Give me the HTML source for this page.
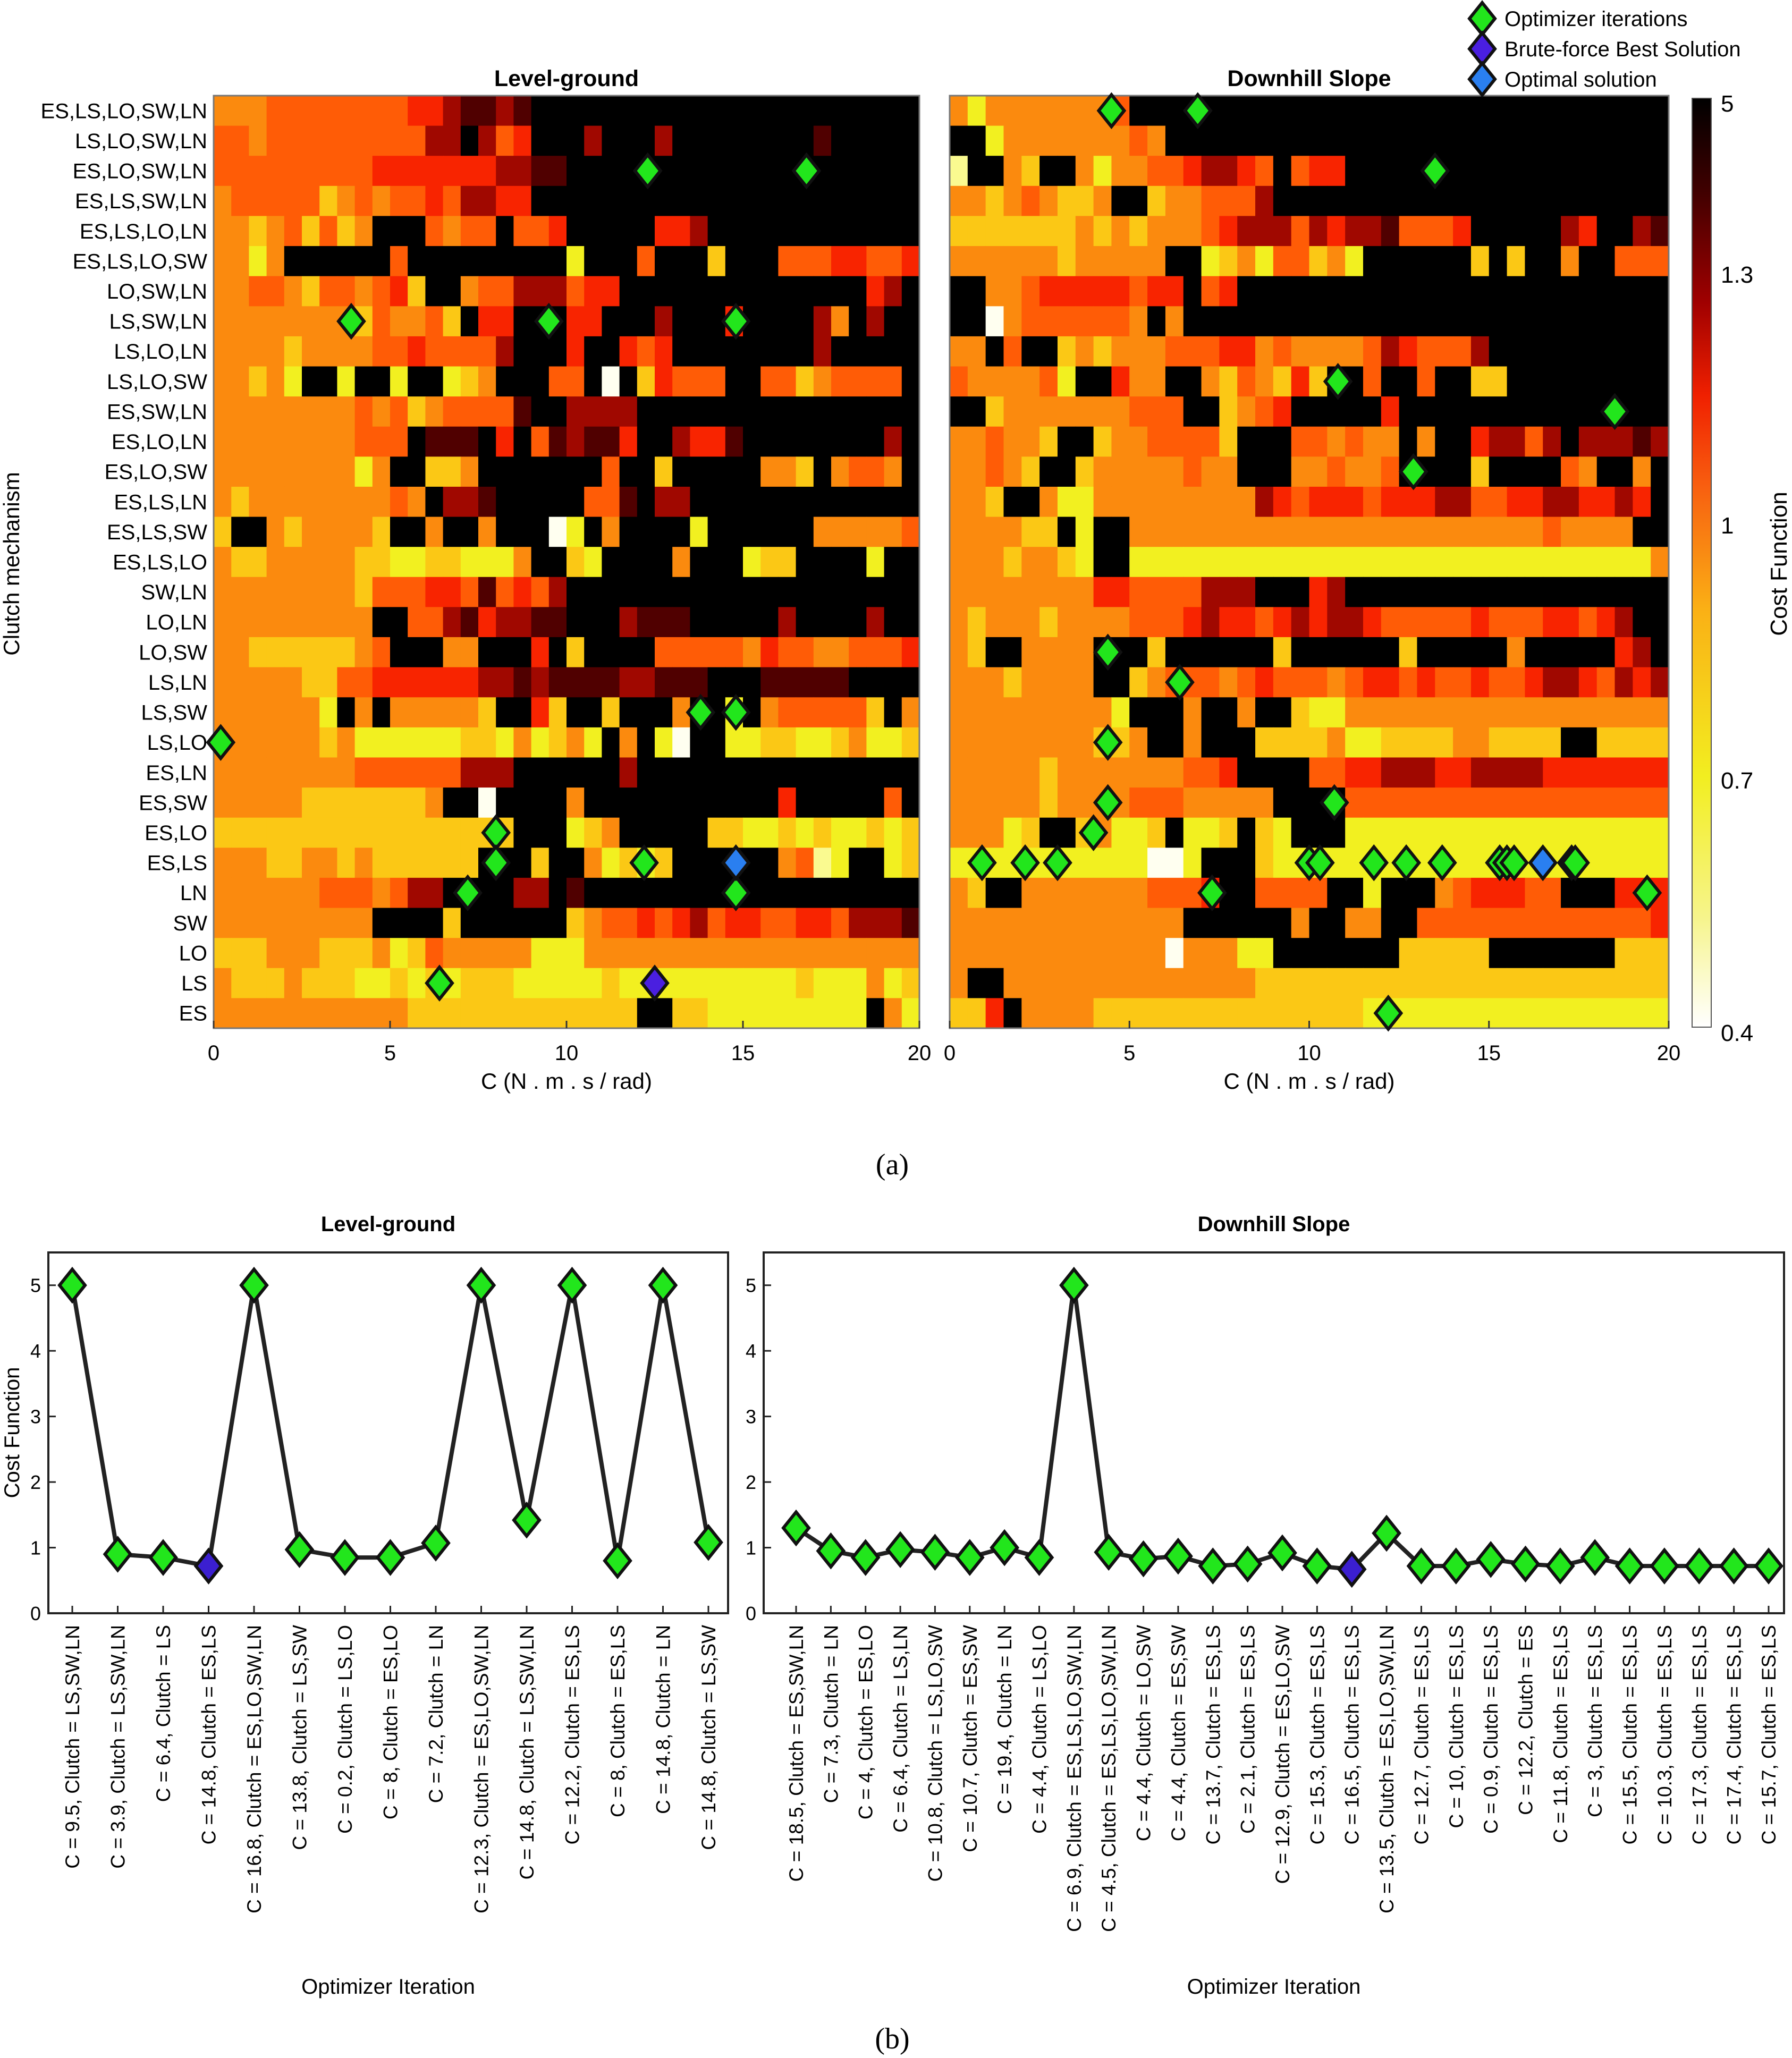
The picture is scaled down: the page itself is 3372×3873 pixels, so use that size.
<!DOCTYPE html>
<html><head><meta charset="utf-8"><style>
html,body{margin:0;padding:0;background:#fff;}
svg{display:block;font-family:"Liberation Sans",sans-serif;}
</style></head><body>
<svg id="fig" width="3372" height="3873" viewBox="0 0 3372 3873" xmlns="http://www.w3.org/2000/svg"></svg>
<script>
const clutchRows = ["ES,LS,LO,SW,LN","LS,LO,SW,LN","ES,LO,SW,LN","ES,LS,SW,LN","ES,LS,LO,LN","ES,LS,LO,SW","LO,SW,LN","LS,SW,LN","LS,LO,LN","LS,LO,SW","ES,SW,LN","ES,LO,LN","ES,LO,SW","ES,LS,LN","ES,LS,SW","ES,LS,LO","SW,LN","LO,LN","LO,SW","LS,LN","LS,SW","LS,LO","ES,LN","ES,SW","ES,LO","ES,LS","LN","SW","LO","LS","ES"];
const levelGrid = [
"4445555555566788789999999999999999999999",
"5545555555557797569997999799999999899999",
"5555555556666666778899999999999999999999",
"4555553454556577669999999999999999999999",
"4434535349995455955699999667999999999999",
"4424999999599999999929995999399955566556",
"4455435545639945577756699999999999999679",
"4444444435445396699966999799969999749799",
"4444344445565555799969965699999999799999",
"4434299299299234999559093655599553455559",
"4444444454534555589977779999999999999999",
"4444444455598889695878869976689999999979",
"4444444424993349999999599399999443945549",
"4344444444549778999995589779999999999999",
"3994344443994994999029499992999999444445",
"4334444433223322249932999949992339999299",
"4444444435556658565799999999999999999999",
"4444444449955786778899978889999979999799",
"4433333345999449996939999555554655445556",
"4444433556666667787888877888999888889999",
"4444442949444443996399399949929455555394",
"4444443422222233242342949209922332234223",
"4444444455555577799999979999999999999999",
"4444433333334990999949999999999969999959",
"3333333333333333399923499999332232322323",
"4443344343333339993994232399999945129923",
"4444445554577999977989999999999999999999",
"4444444449999399999934556567566556657778",
"3334443334235444442224444444444444444444",
"4333433322323233322222322222222223222423",
"4444444444433333333333339933222222222942"];
const downGrid = [
"4244444445999999999999999999999999999999",
"9924444444549999999999999999999999999999",
"1994399424455677659566999999999999999999",
"4434543349934455579999999999999999999999",
"3333333434344456777576778555699999769978",
"4444443444449923425534299999939399499555",
"9944566666566956999999999999999999999999",
"9904555555494999999999999999999999999999",
"4495993434445556645444457655579999999999",
"5444452996449943543639959959933999999999",
"9934444444555993456999996999999999999999",
"4454439934455553999554544949967757977787",
"4454399344444544999445445999939999549949",
"4439942244444444476566656667755667766769",
"4444339299444444444444444444444445444499",
"4443443299222222222222222222222222222224",
"4444444466555577799967999999999999999999",
"4344434444555676656767765555565556656799",
"4399444499939999993999999399999499999679",
"4443444499345554565554566565565567765767",
"4444444442999499499322444444444444444444",
"4444444433499499933334223333443333993333",
"4444434444444556999955667776677776666666",
"4444434444555444449999555555555555555555",
"4442399342239223932999222222222222222222",
"2222222222200299932222222222222222222222",
"4399444444455569955559929994566655999666",
"4444444444444999999499449955555555555556",
"4444444444440444229999999333339999999333",
"4994444444444444433333333333333333333333",
"3369444433333333333333322222222222222222"];
// Level-ground optimizer iterations
const levelC = [9.5,3.9,6.4,14.8,16.8,13.8,0.2,8,7.2,12.3,14.8,12.2,8,14.8,14.8];
const levelClutch = ["LS,SW,LN","LS,SW,LN","LS","ES,LS","ES,LO,SW,LN","LS,SW","LS,LO","ES,LO","LN","ES,LO,SW,LN","LS,SW,LN","ES,LS","ES,LS","LN","LS,SW"];
const levelCost = [5,0.9,0.85,0.72,5,0.97,0.85,0.85,1.07,5,1.42,5,0.8,5,1.08];
const levelBestIdx = 3;
const levelBrute = {c:12.5, clutch:"LS"};
// Downhill optimizer iterations
const downC = [18.5,7.3,4,6.4,10.8,10.7,19.4,4.4,6.9,4.5,4.4,4.4,13.7,2.1,12.9,15.3,16.5,13.5,12.7,10,0.9,12.2,11.8,3,15.5,10.3,17.3,17.4,15.7];
const downClutch = ["ES,SW,LN","LN","ES,LO","LS,LN","LS,LO,SW","ES,SW","LN","LS,LO","ES,LS,LO,SW,LN","ES,LS,LO,SW,LN","LO,SW","ES,SW","ES,LS","ES,LS","ES,LO,SW","ES,LS","ES,LS","ES,LO,SW,LN","ES,LS","ES,LS","ES,LS","ES","ES,LS","ES,LS","ES,LS","ES,LS","ES,LS","ES,LS","ES,LS"];
const downCost = [1.3,0.95,0.85,0.97,0.93,0.85,1.0,0.85,5,0.93,0.83,0.87,0.72,0.75,0.92,0.72,0.67,1.22,0.72,0.72,0.82,0.75,0.72,0.85,0.72,0.72,0.72,0.72,0.72];
const downBestIdx = 16;
const xTicks = [0,5,10,15,20];
const costTicks = [0,1,2,3,4,5];
const cbarTicks = ["5","1.3","1","0.7","0.4"];

const NS="http://www.w3.org/2000/svg";
const svg=document.getElementById('fig');
function mk(tag,attrs,parent){const e=document.createElementNS(NS,tag);for(const k in attrs)e.setAttribute(k,attrs[k]);(parent||svg).appendChild(e);return e;}
function txt(s,attrs,parent){const e=mk('text',attrs,parent);e.textContent=s;return e;}
const COLORS=["#fffff0","#fafa90","#f2f020","#fbc815","#fb8a0e","#ff5c06","#f82400","#a00800","#500000","#000000"];
function diamond(cx,cy,fill,parent,name){
  const r=30;
  const d=mk('polygon',{points:`${cx},${cy-r} ${cx+r*0.8},${cy} ${cx},${cy+r} ${cx-r*0.8},${cy}`,fill:fill,stroke:'#111',"stroke-width":6},parent);
  
  
  return d;
}

function heatPanel(px0,px1,py0,py1,grid,iterC,iterClutch,bestIdx,brute,title,name,showY){
  const g=mk('g',{});
  
  
  const nR=clutchRows.length, rowH=(py1-py0)/nR;
  const xs=c=>px0+(c/20)*(px1-px0);
  const rowY=lbl=>py0+(clutchRows.indexOf(lbl)+0.5)*rowH;
  for(let r=0;r<nR;r++){
    const row=grid[r];const nC=row.length;
    for(let j=0;j<nC;j++){
      const x0=xs(j*20/nC),x1=xs((j+1)*20/nC);
      const cell=mk('rect',{x:x0,y:py0+r*rowH,width:x1-x0+0.6,height:rowH+0.6,fill:COLORS[+row[j]]},g);
      
      
    }
  }
  mk('rect',{x:px0,y:py0,width:px1-px0,height:py1-py0,fill:'none',stroke:'#777','stroke-width':3},g);
  const t=txt(title,{x:(px0+px1)/2,y:py0-18,'text-anchor':'middle','font-size':43,'font-weight':'bold'},g);
  
  
  xTicks.forEach(v=>{
    mk('line',{x1:xs(v),x2:xs(v),y1:py1,y2:py1-14,stroke:'#333','stroke-width':3},g);
    const l=txt(String(v),{x:xs(v),y:py1+60,'text-anchor':'middle','font-size':40},g);
    
    
  });
  const xl=txt("C (N . m . s / rad)",{x:(px0+px1)/2,y:py1+114,'text-anchor':'middle','font-size':42},g);
  
  
  if(showY){
    clutchRows.forEach((lbl,i)=>{
      const l=txt(lbl,{x:px0-12,y:py0+(i+0.5)*rowH+14,'text-anchor':'end','font-size':40},g);
      
      
    });
  }
  iterC.forEach((c,i)=>{
    if(i===bestIdx)return;
    diamond(xs(c),rowY(iterClutch[i]),'#22e61c',g,'optimizer-iteration-marker');
  });
  diamond(xs(iterC[bestIdx]),rowY(iterClutch[bestIdx]),'#2a7ff0',g,'optimal-solution-marker');
  if(brute) diamond(xs(brute.c),rowY(brute.clutch),'#4a1fe0',g,'brute-force-marker');
}
heatPanel(402,1730,180,1935,levelGrid,levelC,levelClutch,levelBestIdx,levelBrute,"Level-ground","level-ground-heatmap",true);
heatPanel(1787,3140,180,1935,downGrid,downC,downClutch,downBestIdx,null,"Downhill Slope","downhill-heatmap",false);

const yt=txt("Clutch mechanism",{x:0,y:0,'text-anchor':'middle','font-size':42,transform:'translate(36,1061) rotate(-90)'});



const defs=mk('defs',{});
const lg=mk('linearGradient',{id:'cb',x1:0,y1:1,x2:0,y2:0},defs);
[[0,'#ffffff'],[0.12,'#f6f48a'],[0.27,'#f2ee20'],[0.45,'#fab015'],[0.58,'#f86010'],[0.68,'#f02000'],[0.78,'#a00000'],[0.9,'#400000'],[1,'#000000']].forEach(s=>mk('stop',{offset:s[0],'stop-color':s[1]},lg));
const cb=mk('rect',{x:3184,y:185,width:36,height:1748,fill:'url(#cb)',stroke:'#555','stroke-width':2});


const cbY=[196,518,990,1470,1945];
cbarTicks.forEach((s,i)=>{
  const l=txt(s,{x:3238,y:cbY[i]+14,'font-size':44},svg);
  
  
});
const cbt=txt("Cost Function",{x:0,y:0,'text-anchor':'middle','font-size':44,transform:'translate(3362,1061) rotate(-90)'});



const leg=mk('g',{});


[["Optimizer iterations",'#22e61c'],["Brute-force Best Solution",'#4a1fe0'],["Optimal solution",'#2a7ff0']].forEach((e,i)=>{
  const y=35+i*57;
  diamond(2789,y,e[1],leg,'legend-marker');
  const l=txt(e[0],{x:2831,y:y+14,'font-size':40},leg);
  
  
});

const a=txt("(a)",{x:1679,y:2210,'text-anchor':'middle','font-size':56,'font-family':'"Liberation Serif",serif'});


const b=txt("(b)",{x:1679,y:3855,'text-anchor':'middle','font-size':56,'font-family':'"Liberation Serif",serif'});



function linePanel(bx0,bx1,firstX,lastX,costs,cs,cls,bestIdx,title,name,showY){
  const by0=2357,by1=3036;
  const g=mk('g',{});
  
  
  const n=costs.length;
  const xs=i=>firstX+i*(lastX-firstX)/(n-1);
  const ys=v=>by1-v*(by1-by0)/5.5;
  mk('rect',{x:bx0,y:by0,width:bx1-bx0,height:by1-by0,fill:'#fff',stroke:'#222','stroke-width':4},g);
  const t=txt(title,{x:(bx0+bx1)/2,y:by0-40,'text-anchor':'middle','font-size':40,'font-weight':'bold'},g);
  
  
  costTicks.forEach(v=>{
    mk('line',{x1:bx0,x2:bx0+14,y1:ys(v),y2:ys(v),stroke:'#222','stroke-width':3},g);
    const l=txt(String(v),{x:bx0-14,y:ys(v)+13,'text-anchor':'end','font-size':36},g);
    
    
  });
  let d='';costs.forEach((v,i)=>{d+=(i?'L':'M')+xs(i)+','+ys(v);});
  const p=mk('path',{d:d,fill:'none',stroke:'#222','stroke-width':8},g);
  
  
  costs.forEach((v,i)=>{
    diamond(xs(i),ys(v),i===bestIdx?'#3b1fd0':'#22e61c',g,'iteration-point');
    mk('line',{x1:xs(i),x2:xs(i),y1:by1,y2:by1-14,stroke:'#222','stroke-width':3},g);
    const l=txt(`C = ${cs[i]}, Clutch = ${cls[i]}`,{x:0,y:0,'text-anchor':'end','font-size':37,transform:`translate(${xs(i)+13},${by1+22}) rotate(-90)`},g);
    
    
  });
  const xl=txt("Optimizer Iteration",{x:(bx0+bx1)/2,y:3752,'text-anchor':'middle','font-size':40},g);
  
  
  if(showY){
    const yl=txt("Cost Function",{x:0,y:0,'text-anchor':'middle','font-size':40,transform:'translate(36,2696) rotate(-90)'},g);
    
    
  }
}
linePanel(91,1370,136,1333,levelCost,levelC,levelClutch,levelBestIdx,"Level-ground","level-ground-line-plot",true);
linePanel(1437,3357,1498,3328,downCost,downC,downClutch,downBestIdx,"Downhill Slope","downhill-line-plot",false);
</script>
</body></html>
